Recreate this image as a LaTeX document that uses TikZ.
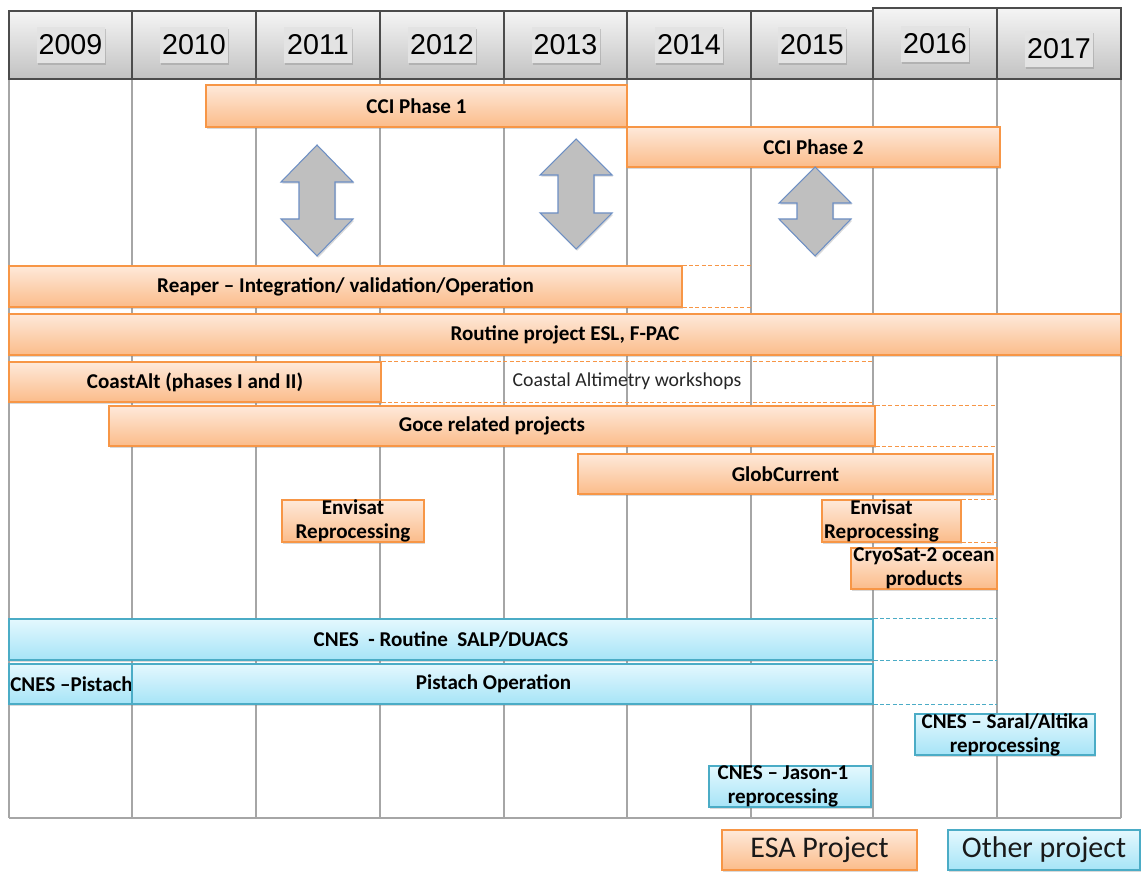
\documentclass[tikz,border=0pt]{standalone}
\usepackage{fontspec}
\setmainfont{Carlito}
\newfontfamily\yrfont{Liberation Sans}
\usetikzlibrary{fit,shadows}
\definecolor{esaline}{HTML}{F79646}
\definecolor{esatop}{HTML}{FEE9DA}
\definecolor{esabot}{HTML}{FBBC8A}
\definecolor{othline}{HTML}{4BACC6}
\definecolor{othtop}{HTML}{E4F8FE}
\definecolor{othbot}{HTML}{A6E4F7}
\definecolor{gridc}{HTML}{A6A6A6}
\definecolor{arrfill}{HTML}{BFBFBF}
\definecolor{arrline}{HTML}{6D8FC4}
\tikzset{
  shadowed/.style={drop shadow={shadow xshift=0.9pt,shadow yshift=-1.3pt,opacity=0.3}},
  barbase/.style={line width=0.9pt, inner sep=0pt, shadowed},
  esabar/.style={barbase, draw=esaline, top color=esatop, bottom color=esabot},
  othbar/.style={barbase, draw=othline, top color=othtop, bottom color=othbot},
  bartext/.style={font=\bfseries\fontsize{15.8}{18}\selectfont, align=center, inner sep=0pt, text=black},
  gridline/.style={draw=gridc, line width=0.9pt},
  hcell/.style={draw=black!70, line width=0.9pt, top color=black!4, bottom color=black!24, inner sep=0pt},
  yrlabel/.style={fill=black!11, inner sep=0pt, minimum width=51pt, minimum height=27pt,
     font=\yrfont\fontsize{21.5}{24}\selectfont, drop shadow={shadow xshift=0.8pt,shadow yshift=-1.3pt,opacity=0.35}},
  esadash/.style={draw=esaline, line width=1pt, dash pattern=on 3pt off 1.8pt},
  othdash/.style={draw=othline, line width=1pt, dash pattern=on 3pt off 1.8pt},
  udarr/.style={fill=arrfill, draw=arrline, line width=0.8pt, shadowed},
  legtext/.style={font=\fontsize{22.5}{26}\selectfont, text=black!90},
}
\newcommand\pbar[8]{%
  \node[#1, fit={(#3,#4) (#5,#6)}] (#2) {};
  \node[bartext] (#2t) at ([xshift=#8*0.75pt]#2.center) {#7};
}
\newcommand\udarrow[6]{%
  \draw[udarr] (#2,#3) -- (#2+36,#4) -- (#2+18,#4) -- (#2+18,#5) -- (#2+36,#5) -- (#2,#6)
     -- (#2-36,#5) -- (#2-18,#5) -- (#2-18,#4) -- (#2-36,#4) -- cycle;
  \coordinate (#1) at (#2,{(#3+#6)/2});
}
\begin{document}
\begin{tikzpicture}[x=0.75pt,y=-0.75pt]
\useasboundingbox (0,0) rectangle (1141,873);
% grid
\foreach \n/\x in {0/9,1/132,2/256,3/380,4/504,5/627,6/751,7/873,8/997,9/1121}{
  \coordinate (v\n) at (\x,80);
  \draw[gridline] (\x,80) -- (\x,818);
}
\draw[gridline] (9,818) -- (1121,818);
% header
\foreach \yr/\xa/\xb/\yt/\ty in {2009/9/132/11/45,2010/132/256/11/45,2011/256/380/11/45,2012/380/504/11/45,2013/504/627/11/45,2014/627/751/11/45,2015/751/873/11/45,2016/873/997/8/44,2017/997/1121/8/49}{
  \node[hcell, fit={(\xa,\yt) (\xb,79)}] (h\yr) {};
  \node[yrlabel] (l\yr) at ({(\xa+\xb)/2},\ty) {\yr};
}
% ESA bars
\pbar{esabar}{cci1}{206}{85}{627}{127}{CCI Phase 1}{0}
\pbar{esabar}{cci2}{627}{127}{1000}{167}{CCI Phase 2}{0}
\udarrow{a1}{317}{145}{182}{219}{256}
\udarrow{a2}{576}{139}{175}{213}{249}
\udarrow{a3}{815}{167}{203}{219}{256}
\pbar{esabar}{reaper}{9}{266}{682}{307}{Reaper -- Integration/ validation/Operation}{0}
\draw[esadash] (reaper.north east) -- (reaper.north east -| v6);
\draw[esadash] (reaper.south east) -- (reaper.south east -| v6);
\pbar{esabar}{routine}{9}{314}{1121}{355}{Routine project ESL, F-PAC}{0}
\pbar{esabar}{coastalt}{9}{362}{381}{402}{CoastAlt (phases I and II)}{0}
\draw[esadash] (coastalt.north east) -- (coastalt.north east -| v7);
\draw[esadash] (coastalt.south east) -- (coastalt.south east -| v7);
\node[font=\fontsize{14.8}{17}\selectfont, text=black!85] (workshops) at (627,381) {Coastal Altimetry workshops};
\pbar{esabar}{goce}{109}{406}{875}{446}{Goce related projects}{0}
\draw[esadash] (goce.north east) -- (goce.north east -| v8);
\draw[esadash] (goce.south east) -- (goce.south east -| v8);
\pbar{esabar}{glob}{578}{454}{993}{494}{GlobCurrent}{0}
\pbar{esabar}{envA}{282}{500}{424}{542}{Envisat\\Reprocessing}{0}
\pbar{esabar}{envB}{822}{500}{961}{542}{Envisat\\Reprocessing}{-10}
\draw[esadash] (envB.north east) -- (envB.north east -| v8);
\draw[esadash] (envB.south east) -- (envB.south east -| v8);
\pbar{esabar}{cryo}{851}{548}{997}{589}{CryoSat-2 ocean\\products}{0}
% other bars
\pbar{othbar}{salp}{9}{619}{873}{660}{CNES \ - Routine \ SALP/DUACS}{0}
\draw[othdash] (salp.north east) -- (salp.north east -| v8);
\draw[othdash] (salp.south east) -- (salp.south east -| v8);
\pbar{othbar}{pistA}{9}{664}{132}{704}{CNES --Pistach}{1}
\pbar{othbar}{pistB}{132}{664}{873}{704}{Pistach Operation}{-9}
\draw[othdash] (pistB.south east) -- (pistB.south east -| v8);
\pbar{othbar}{saral}{915}{714}{1095}{755}{CNES -- Saral/Altika\\reprocessing}{0}
\pbar{othbar}{jason}{709}{766}{871}{807}{CNES -- Jason-1\\reprocessing}{-7}
% legend
\node[esabar, fit={(722,830) (917,870)}] (legesa) {};
\node[legtext] (legesat) at (legesa.center) {ESA Project};
\node[othbar, fit={(948,830) (1140,870)}] (legoth) {};
\node[legtext] (legotht) at (legoth.center) {Other project};
\end{tikzpicture}
\end{document}
